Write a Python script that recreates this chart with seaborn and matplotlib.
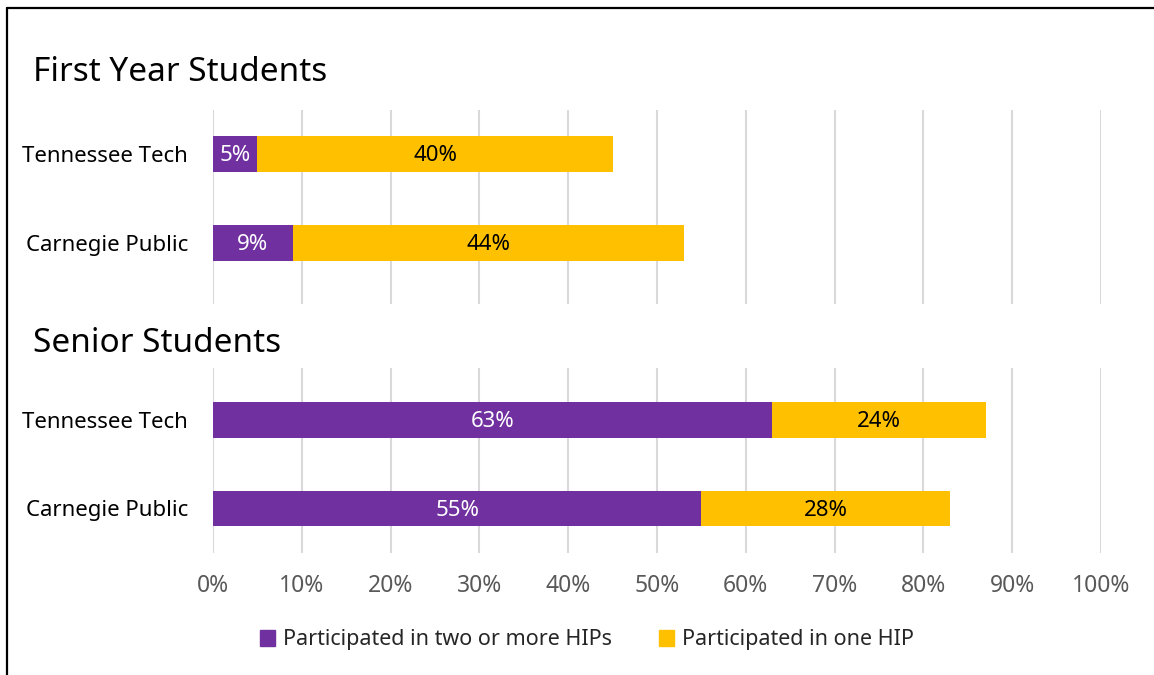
import matplotlib
matplotlib.use("Agg")
import matplotlib.pyplot as plt
import matplotlib.patches as mpatches
from matplotlib.lines import Line2D
import pandas as pd
import seaborn as sns

# -----------------------------
#  Data
# -----------------------------
SCHOOLS = ["Tennessee Tech", "Carnegie Public"]
SECTIONS = ["First Year Students", "Senior Students"]
FIRST_TWO_PLUS = [5, 9]
FIRST_ONE = [40, 44]
SENIOR_TWO_PLUS = [63, 55]
SENIOR_ONE = [24, 28]
SERIES = ["Participated in two or more HIPs", "Participated in one HIP"]
X_TICKS = [0, 10, 20, 30, 40, 50, 60, 70, 80, 90, 100]

PURPLE = "#7030A0"
GOLD = "#FFC000"
GRID = "#D9D9D9"
FONT = "Noto Sans"
FS = 16

sns.set_theme(style="white")
plt.rcParams["font.family"] = [FONT, "DejaVu Sans"]

W, H = 1154, 675
fig = plt.figure(figsize=(W / 100, H / 100), dpi=100)


def px_axes(left, top, right, bottom):
    return fig.add_axes([left / W, 1 - bottom / H, (right - left) / W, (bottom - top) / H])


def draw_panel(ax, two_plus, one, ylim, show_x):
    df = pd.DataFrame({
        "school": SCHOOLS,
        "two": two_plus,
        "total": [a + b for a, b in zip(two_plus, one)],
    })
    # stacked: total in gold underneath, purple segment on top
    sns.barplot(data=df, y="school", x="total", color=GOLD, width=0.4,
                saturation=1, linewidth=0, ax=ax, zorder=2)
    sns.barplot(data=df, y="school", x="two", color=PURPLE, width=0.4,
                saturation=1, linewidth=0, ax=ax, zorder=3)
    for i, (a, b) in enumerate(zip(two_plus, one)):
        ax.text(a / 2, i + 0.02, f"{a}%", ha="center", va="center", color="white",
                fontsize=FS, zorder=4)
        ax.text(a + b / 2, i + 0.02, f"{b}%", ha="center", va="center", color="black",
                fontsize=FS, zorder=4)
    ax.set_xlim(0, 100)
    ax.set_ylim(*ylim)
    ax.set_xticks(X_TICKS)
    ax.set_xticklabels([f"{t}%" for t in X_TICKS])
    ax.xaxis.grid(True, color=GRID, linewidth=1.5, zorder=0)
    ax.set_axisbelow(True)
    for s in ax.spines.values():
        s.set_visible(False)
    ax.set_xlabel("")
    ax.set_ylabel("")
    ax.tick_params(axis="y", length=0, pad=18, labelsize=FS, labelcolor="black")
    ax.tick_params(axis="x", length=0, pad=15, labelsize=16.5, labelcolor="#595959",
                   labelbottom=show_x)


ax1 = px_axes(213, 110, 1101, 304)
draw_panel(ax1, FIRST_TWO_PLUS, FIRST_ONE, (1.685, -0.494), False)
ax2 = px_axes(213, 368, 1101, 553)
draw_panel(ax2, SENIOR_TWO_PLUS, SENIOR_ONE, (1.503, -0.588), True)

fig.text(33 / W, 1 - 81 / H, SECTIONS[0], fontsize=24, va="baseline", color="black")
fig.text(33 / W, 1 - 352 / H, SECTIONS[1], fontsize=24, va="baseline", color="black")

handles = [mpatches.Patch(color=PURPLE, label=SERIES[0]),
           mpatches.Patch(color=GOLD, label=SERIES[1])]
fig.legend(handles=handles, loc="center", bbox_to_anchor=(587 / W, 1 - 640 / H),
           ncol=2, frameon=False, fontsize=15.5, handlelength=0.7, handleheight=0.7,
           handletextpad=0.35, columnspacing=2.2)

# outer frame (left and top edge visible)
fig.add_artist(Line2D([7 / W, 7 / W], [0, 1 - 8 / H], color="black", linewidth=1.6))
fig.add_artist(Line2D([7 / W, 1], [1 - 8 / H, 1 - 8 / H], color="black", linewidth=1.6))

fig.savefig("out.png", dpi=100)
